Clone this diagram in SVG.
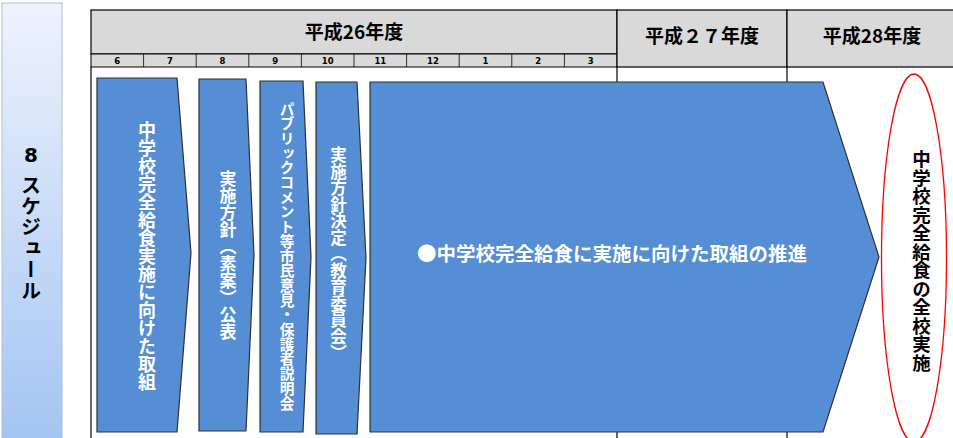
<svg xmlns="http://www.w3.org/2000/svg" width="953" height="438" viewBox="0 0 953 438">
<defs>
<linearGradient id="side" x1="0" y1="0" x2="0" y2="1">
<stop offset="0" stop-color="#eef3fd"/>
<stop offset="1" stop-color="#a3c4f3"/>
</linearGradient>
<style>
.grid{stroke:#000;stroke-width:1.2;fill:none}
.hdr{fill:#d9d9d9;stroke:#000;stroke-width:1.2}
.mon{fill:#d9d9d9;stroke:#000;stroke-width:1}
.mt{font-family:"DejaVu Sans",sans-serif;font-weight:bold;font-size:8.5px;fill:#000;text-anchor:middle}
.ht{font-family:"Noto Sans CJK JP",sans-serif;font-weight:bold;font-size:19px;fill:#000;text-anchor:middle}
.arr{fill:#558ed5;stroke:#303030;stroke-width:1.2;stroke-linejoin:miter}
.vt{font-family:"Noto Sans CJK JP",sans-serif;font-weight:bold;fill:#fff;text-anchor:middle;writing-mode:vertical-rl}
.vb{font-family:"Noto Sans CJK JP",sans-serif;font-weight:bold;fill:#000;text-anchor:middle;writing-mode:vertical-rl}
</style>
</defs>
<rect width="953" height="438" fill="#fff"/>

<g id="sidebar">
<rect x="2" y="3" width="60" height="440" fill="url(#side)" stroke="#b4bfcf" stroke-width="1"/>
<text x="31" y="162" font-family="'DejaVu Sans',sans-serif" font-weight="bold" font-size="20" text-anchor="middle">8</text>
<text class="vb" x="31" y="238" font-size="20" letter-spacing="1">スケジュール</text>
</g>

<g id="timeline-header">
<rect class="hdr" x="91" y="10" width="526" height="44"/>
<rect class="mon" x="91" y="54" width="526" height="13"/>
<rect class="hdr" x="617" y="10" width="170" height="57"/>
<rect class="hdr" x="787" y="10" width="170" height="57"/>
<g stroke="#000" stroke-width="0.8">
<line x1="143.6" y1="54" x2="143.6" y2="67"/>
<line x1="196.2" y1="54" x2="196.2" y2="67"/>
<line x1="248.8" y1="54" x2="248.8" y2="67"/>
<line x1="301.4" y1="54" x2="301.4" y2="67"/>
<line x1="354" y1="54" x2="354" y2="67"/>
<line x1="406.6" y1="54" x2="406.6" y2="67"/>
<line x1="459.2" y1="54" x2="459.2" y2="67"/>
<line x1="511.8" y1="54" x2="511.8" y2="67"/>
<line x1="564.4" y1="54" x2="564.4" y2="67"/>
</g>
<text class="ht" x="354" y="38.5">平成26年度</text>
<text class="ht" x="702" y="43">平成２７年度</text>
<text class="ht" x="872" y="43">平成28年度</text>
<text class="mt" x="117.3" y="64">6</text>
<text class="mt" x="169.9" y="64">7</text>
<text class="mt" x="222.5" y="64">8</text>
<text class="mt" x="275.1" y="64">9</text>
<text class="mt" x="327.7" y="64">10</text>
<text class="mt" x="380.3" y="64">11</text>
<text class="mt" x="432.9" y="64">12</text>
<text class="mt" x="485.5" y="64">1</text>
<text class="mt" x="538.1" y="64">2</text>
<text class="mt" x="590.7" y="64">3</text>
</g>

<g id="grid-lines" class="grid">
<line x1="91" y1="67" x2="91" y2="438"/>
<line x1="617" y1="67" x2="617" y2="438"/>
<line x1="787" y1="67" x2="787" y2="438"/>
</g>

<g id="step1">
<polygon class="arr" points="97,78 177,78 191,253 177,432 97,432"/>
<text class="vt" x="147" y="256" font-size="18">中学校完全給食実施に向けた取組</text>
</g>

<g id="step2">
<polygon class="arr" points="199,79 246,79 254,255 246,431 199,431"/>
<text class="vt" x="228" y="255" font-size="17">実施方針（素案）公表</text>
</g>

<g id="step3">
<polygon class="arr" points="260,81 303,81 311,257 303,432 260,432"/>
<text class="vt" x="287" y="256" font-size="14.7">パブリックコメント等市民意見・保護者説明会</text>
</g>

<g id="step4">
<polygon class="arr" points="316,82 357,82 366,258 357,434 316,434"/>
<text class="vt" x="338.5" y="254" font-size="16.5">実施方針決定（教育委員会）</text>
</g>

<g id="step5">
<polygon class="arr" points="370,82 823,82 879,257 823,432 370,432"/>
<text x="612" y="261" font-family="'Noto Sans CJK JP',sans-serif" font-weight="bold" font-size="19.5" fill="#fff" text-anchor="middle">●中学校完全給食に実施に向けた取組の推進</text>
</g>

<g id="goal">
<ellipse cx="914" cy="258" rx="32.5" ry="184" fill="none" stroke="#ff0000" stroke-width="1.3"/>
<text class="vb" x="921.5" y="261" font-size="18.5">中学校完全給食の全校実施</text>
</g>
</svg>
